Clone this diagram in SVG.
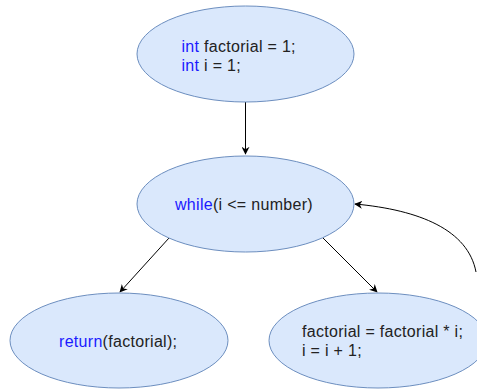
<svg xmlns="http://www.w3.org/2000/svg" width="477" height="389" viewBox="0 0 477 389">
<style>
.node{fill:#dae8fc;stroke:#6c8ebf;stroke-width:1}
.t{font-family:"Liberation Sans",Arial,sans-serif;font-size:16px;letter-spacing:0.3px;fill:#222}
.k{fill:#1a1aff}
.edge{fill:none;stroke:#000;stroke-width:1}
</style>
<defs>
<marker id="ah" viewBox="0 0 10 10" refX="9" refY="5" markerWidth="8" markerHeight="8" orient="auto" markerUnits="userSpaceOnUse">
<path d="M0,0 L10,5 L0,10 L3,5 Z" fill="#000"/>
</marker>
</defs>
<g id="connectors">
<path class="edge" d="M245.5,102 L245.5,154" marker-end="url(#ah)"/>
<path class="edge" d="M169,238 L120,292" marker-end="url(#ah)"/>
<path class="edge" d="M323,238 L377,292" marker-end="url(#ah)"/>
<path class="edge" d="M476,272 C468,230 420,210 355,204" marker-end="url(#ah)"/>
</g>
<g id="init">
<ellipse class="node" cx="245.5" cy="54" rx="108.5" ry="48"/>
<text class="t" x="181.5" y="51.5"><tspan class="k">int</tspan> factorial = 1;</text>
<text class="t" x="181.5" y="70.5"><tspan class="k">int</tspan> i = 1;</text>
</g>
<g id="loop">
<ellipse class="node" cx="245.5" cy="204" rx="108.5" ry="48"/>
<text class="t" x="175" y="210"><tspan class="k">while</tspan>(i &lt;= number)</text>
</g>
<g id="ret">
<ellipse class="node" cx="119" cy="340.5" rx="109" ry="47.5"/>
<text class="t" x="59" y="347"><tspan class="k">return</tspan>(factorial);</text>
</g>
<g id="body">
<ellipse class="node" cx="378" cy="340.5" rx="109" ry="47.5"/>
<text class="t" x="302" y="337.3">factorial = factorial * i;</text>
<text class="t" x="302" y="355.8">i = i + 1;</text>
</g>
</svg>
